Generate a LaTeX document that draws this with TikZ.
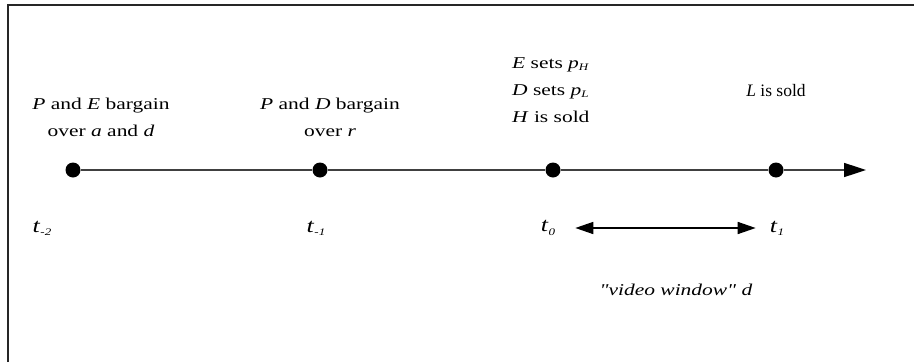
\documentclass[tikz,border=0pt]{standalone}
\usepackage{fontspec}
\setmainfont{Liberation Serif}
\newfontfamily\widefont[FakeStretch=1.3]{Liberation Serif}
\usetikzlibrary{arrows.meta,calc}
\newcommand{\sbs}[2]{\textit{#1}\raisebox{-0.35ex}{\fontsize{10}{10}\selectfont\textit{#2}}}
\begin{document}
\begin{tikzpicture}[x=1pt,y=-1pt,
  lbl/.style={font=\widefont\fontsize{16.5}{27}\selectfont, inner sep=0pt, align=center},
  nlbl/.style={font=\fontsize{17.5}{27}\selectfont, inner sep=0pt, align=center},
  tlbl/.style={font=\widefont\fontsize{20}{20}\selectfont, inner sep=0pt},
  dot/.style={circle, fill=black, minimum size=15pt, inner sep=0pt},
  axis/.style={line width=1.6pt, draw=black!75},
  frame/.style={line width=1.6pt, draw=black!85}]
\useasboundingbox (0,0) rectangle (914,362);
\draw[frame] (8,362) -- (8,5) -- (914,5);
% dots
\node[dot] (d1) at (73,170) {};
\node[dot] (d2) at (320,170) {};
\node[dot] (d3) at (553,170) {};
\node[dot] (d4) at (776,170) {};
\coordinate (end) at (866,170);
\draw[axis] (d1) -- (d2) -- (d3) -- (d4);
\draw[axis, -{Triangle[length=22pt,width=14pt,color=black]}] (d4) -- (end);
% time labels
\node[tlbl] (t2) at (42,228) {\sbs{t}{-2}};
\node[tlbl] (t1) at (316,228) {\sbs{t}{-1}};
\node[tlbl] (t0) at (548,228) {\sbs{t}{0}};
\node[tlbl] (tp1) at (777,228) {\sbs{t}{1}};
\coordinate (wa) at ($(t0.east)+(20,0)$);
\coordinate (wb) at ($(tp1.west)+(-14,0)$);
\draw[line width=1.6pt, {Triangle[length=18pt,width=12pt]}-{Triangle[length=18pt,width=12pt]}] (wa) -- (wb);
\node[lbl] (vw) at (676,290) {\textit{"video window" d}};
% event labels
\node[lbl] (e1) at (101,117) {\textit{P} and \textit{E} bargain\\over \textit{a} and \textit{d}};
\node[lbl] (e2) at (330,117) {\textit{P} and \textit{D} bargain\\over \textit{r}};
\node[lbl, align=left, anchor=west] (e3) at (512,90) {\textit{E} sets \sbs{p}{H}\\\textit{D} sets \sbs{p}{L}\\\textit{H} is sold};
\node[nlbl] (e4) at (776,91) {\textit{L} is sold};
\end{tikzpicture}
\end{document}
